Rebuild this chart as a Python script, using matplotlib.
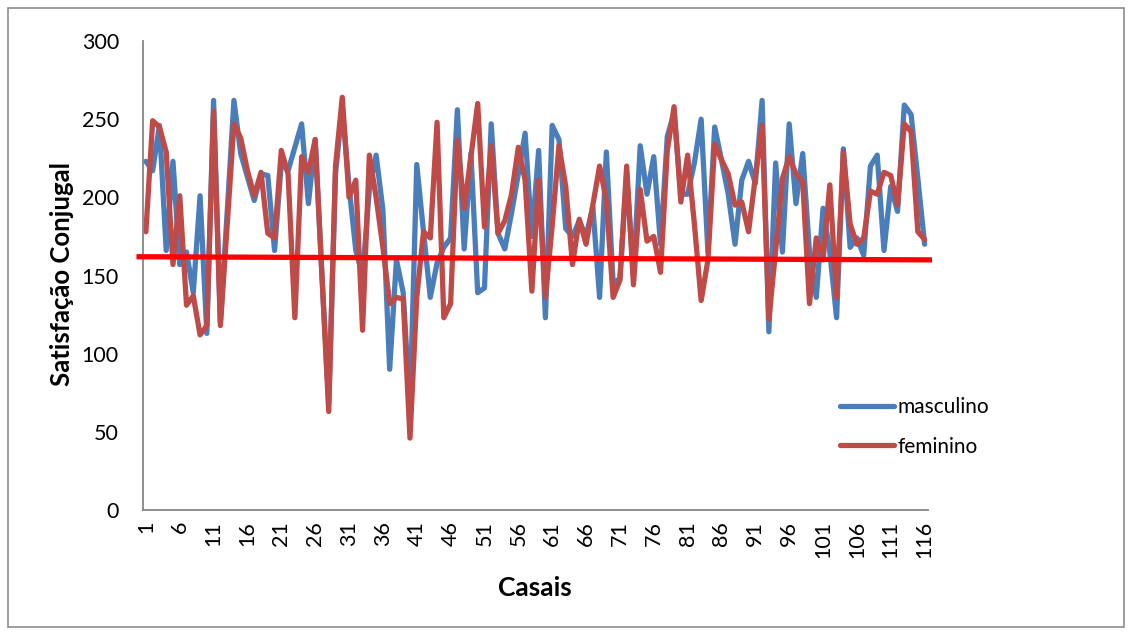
import matplotlib
matplotlib.use("Agg")
import matplotlib.pyplot as plt
from matplotlib.patches import Rectangle
import numpy as np

casais = list(range(1, 117))
masculino = [223, 217, 246, 166, 223, 157, 165, 139, 201, 113,
             262, 120, 190, 262, 228, 213, 198, 215, 214, 166,
             222, 217, 232, 247, 196, 237, 150, 68, 215, 258,
             207, 166, 150, 205, 227, 192, 90, 160, 139, 65,
             221, 178, 136, 158, 168, 174, 256, 167, 228, 139,
             142, 247, 177, 167, 190, 215, 241, 175, 230, 123,
             246, 237, 180, 175, 185, 175, 194, 136, 229, 145,
             148, 215, 150, 233, 202, 226, 170, 239, 254, 202,
             202, 222, 250, 165, 245, 224, 202, 170, 211, 223,
             209, 262, 114, 222, 165, 247, 196, 228, 165, 136,
             193, 165, 123, 231, 168, 174, 163, 220, 227, 166,
             207, 191, 259, 253, 212, 170]
feminino = [178, 249, 245, 229, 157, 201, 131, 137, 112, 118,
            255, 118, 182, 247, 238, 217, 201, 216, 177, 174,
            230, 215, 123, 226, 216, 237, 150, 63, 220, 264,
            200, 211, 115, 227, 200, 168, 132, 136, 135, 46,
            136, 178, 174, 248, 123, 132, 237, 193, 226, 260,
            181, 233, 177, 185, 202, 232, 211, 140, 211, 136,
            182, 233, 207, 157, 186, 170, 195, 220, 198, 136,
            147, 220, 144, 205, 172, 175, 152, 230, 258, 197,
            227, 183, 134, 160, 234, 224, 215, 195, 197, 178,
            213, 246, 122, 166, 212, 226, 215, 210, 132, 174,
            160, 208, 136, 229, 183, 170, 174, 204, 202, 216,
            214, 195, 247, 242, 178, 173]
linha_ref_x = [0.0, 116.7]
linha_ref_y = [162, 160]
yticks = [0, 50, 100, 150, 200, 250, 300]
xticks = list(range(1, 117, 5))

plt.rcParams['font.family'] = ['Lato', 'DejaVu Sans']

W, H = 1132, 633
fig = plt.figure(figsize=(W / 100, H / 100), dpi=100)
fig.patches.append(Rectangle((8 / W, 1 - 627 / H), (1124 - 8) / W, (627 - 8) / H,
                             transform=fig.transFigure, fill=False,
                             edgecolor='#8c8c8c', linewidth=1.2))

ax = fig.add_axes([142.5 / W, 1 - 510 / H, (928 - 142.5) / W, (510 - 41) / H])
ax.plot(casais, masculino, color='#4a7ebb', linewidth=3.8, label='masculino',
        solid_joinstyle='round', solid_capstyle='round')
ax.plot(casais, feminino, color='#be4b48', linewidth=3.8, label='feminino',
        solid_joinstyle='round', solid_capstyle='round')
ax.plot(linha_ref_x, linha_ref_y, color='#ff0000', linewidth=3.8, clip_on=False, zorder=5)

ax.set_xlim(0.5, 116.5)
ax.set_ylim(0, 300)
ax.set_yticks(yticks)
ax.set_xticks(xticks)
ax.set_xticklabels([str(v) for v in xticks], rotation=90)
ax.tick_params(axis='both', length=0, labelsize=15.5, colors='black')
ax.tick_params(axis='y', pad=17)
ax.tick_params(axis='x', pad=8)
for s in ['top', 'right']:
    ax.spines[s].set_visible(False)
for s in ['left', 'bottom']:
    ax.spines[s].set_color('#868686')
    ax.spines[s].set_linewidth(1.3)

fig.text(62 / W, 1 - 274 / H, 'Satisfação Conjugal', rotation=90, ha='center', va='center',
         fontsize=18.5, fontweight='bold')
fig.text(535 / W, 1 - 588 / H, 'Casais', ha='center', va='center',
         fontsize=19, fontweight='bold')

leg = ax.legend(loc='upper left', bbox_to_anchor=(840 / W, 1 - 397 / H),
                bbox_transform=fig.transFigure, frameon=False, fontsize=15,
                handlelength=2.6, handletextpad=0.15, labelspacing=0.95,
                borderpad=0, borderaxespad=0)

fig.savefig('out.png', dpi=100)
